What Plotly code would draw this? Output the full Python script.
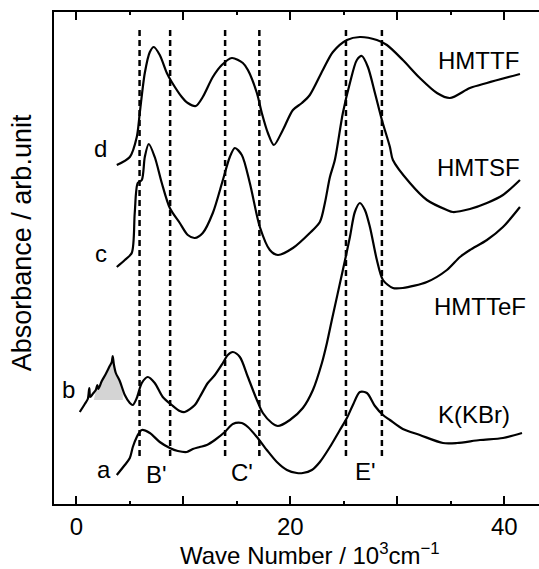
import plotly.graph_objects as go

# ---- data (x in 10^3 cm^-1, absorbance in arb. units) ----
hmttf_x = [3.77, 4.99, 5.64, 5.92, 6.39, 6.86, 7.23, 7.79, 8.45, 8.91, 9.85, 10.41, 11.16, 11.81, 12.75,
           13.59, 14.53, 15.56, 16.03, 16.87, 17.33, 17.90, 18.46, 19.30, 20.24, 21.08, 21.82, 23.04,
           23.98, 25.29, 26.50, 28.09, 29.03, 30.52, 32.11, 33.71, 34.92, 36.79, 38.38, 41.47]
hmttf_y = [3.38, 3.46, 3.66, 3.90, 4.30, 4.51, 4.56, 4.48, 4.30, 4.21, 4.06, 4.00, 3.97, 4.06, 4.26,
           4.38, 4.45, 4.40, 4.33, 4.10, 3.90, 3.70, 3.58, 3.73, 3.93, 4.00, 4.08, 4.33,
           4.51, 4.63, 4.66, 4.63, 4.58, 4.43, 4.25, 4.10, 4.05, 4.15, 4.20, 4.29]

hmtsf_x = [3.77, 4.52, 5.17, 5.45, 5.73, 6.11, 6.39, 6.76, 7.32, 7.98, 8.73, 9.66, 10.41, 11.07, 11.81,
           12.75, 13.69, 14.34, 14.81, 15.46, 16.21, 17.15, 18.08, 18.83, 20.24, 21.82, 22.76, 23.23,
           23.70, 24.16, 24.91, 25.57, 26.22, 26.69, 27.25, 27.91, 28.56, 29.31, 29.59, 31.18, 32.77,
           34.64, 35.20, 36.79, 38.38, 39.88, 41.47]
hmtsf_y = [2.36, 2.43, 2.50, 2.90, 3.20, 3.23, 3.46, 3.59, 3.46, 3.20, 2.95, 2.80, 2.68, 2.65, 2.70,
           2.90, 3.23, 3.46, 3.55, 3.48, 3.20, 2.76, 2.53, 2.48, 2.55, 2.70, 2.81, 3.00,
           3.26, 3.43, 3.90, 4.20, 4.43, 4.47, 4.36, 4.10, 3.83, 3.56, 3.43, 3.20, 3.03,
           2.93, 2.91, 2.94, 3.00, 3.08, 3.23]

hmttef_x = [0.31, 0.78, 1.06, 1.20, 1.29, 1.52, 1.81, 1.95, 2.04, 2.37, 2.74, 3.11, 3.30, 3.39, 3.49,
            3.68, 4.05, 4.52, 4.99, 5.27, 5.64, 6.11, 6.67, 7.32, 8.07, 8.91, 9.66, 10.13, 11.07,
            11.53, 12.28, 12.94, 13.69, 14.15, 14.62, 15.28, 16.03, 16.87, 17.43, 18.27, 18.83,
            19.96, 21.17, 22.11, 22.95, 23.42, 23.88, 24.91, 25.57, 26.03, 26.50, 26.97, 27.44,
            28.09, 28.66, 29.59, 30.52, 32.77, 34.64, 35.86, 36.79, 38.38, 39.88, 41.47]
hmttef_y = [0.91, 0.99, 1.04, 1.15, 1.06, 1.09, 1.13, 1.18, 1.14, 1.22, 1.29, 1.37, 1.41, 1.47, 1.39,
            1.30, 1.22, 1.08, 1.00, 0.98, 1.05, 1.20, 1.26, 1.20, 1.06, 0.98, 0.92, 0.91, 0.98,
            1.06, 1.20, 1.28, 1.40, 1.48, 1.51, 1.46, 1.26, 1.03, 0.90, 0.80, 0.77,
            0.83, 0.95, 1.13, 1.40, 1.60, 1.83, 2.33, 2.66, 2.91, 3.00, 2.93, 2.76,
            2.43, 2.23, 2.15, 2.15, 2.21, 2.33, 2.46, 2.53, 2.63, 2.76, 2.96]

kbr_x = [3.77, 4.52, 4.99, 5.27, 5.64, 5.92, 6.11, 6.86, 7.79, 8.73, 9.48, 10.32, 10.88, 11.53, 12.19,
         12.94, 13.87, 14.62, 15.46, 16.03, 16.87, 17.80, 18.74, 19.68, 20.61, 21.17, 22.01, 22.76,
         23.70, 24.63, 25.29, 25.85, 26.50, 27.16, 27.91, 28.66, 29.31, 30.52, 32.11, 34.27, 35.57,
         37.73, 39.88, 41.66]
kbr_y = [0.28, 0.38, 0.45, 0.56, 0.66, 0.71, 0.73, 0.70, 0.61, 0.55, 0.52, 0.51, 0.54, 0.56, 0.58,
         0.63, 0.71, 0.79, 0.80, 0.76, 0.66, 0.53, 0.41, 0.33, 0.30, 0.30, 0.33, 0.41,
         0.56, 0.73, 0.85, 0.98, 1.11, 1.10, 0.97, 0.88, 0.83, 0.74, 0.68, 0.60, 0.60,
         0.63, 0.65, 0.70]

# shaded low-energy band on curve b
shade_x = [1.62, 1.81, 1.95, 2.04, 2.37, 2.74, 3.11, 3.30, 3.39, 3.49, 3.68, 4.05, 4.33, 4.33]
shade_y = [1.03, 1.13, 1.18, 1.14, 1.22, 1.29, 1.37, 1.41, 1.47, 1.39, 1.30, 1.22, 1.14, 1.03]

# dashed band markers
band_x = [5.9, 8.76, 13.9, 17.1, 25.2, 28.56]
band_y = [0.47, 4.76]

# labels
names = ["HMTTF", "HMTSF", "HMTTeF", "K(KBr)"]
name_x = [37.59, 37.63, 37.73, 37.17]
name_y = [4.43, 3.36, 1.97, 0.89]
letters = ["d", "c", "b", "a"]
letter_x = [2.27, 2.27, -0.72, 2.56]
letter_y = [3.55, 2.50, 1.14, 0.34]
bands = ["B'", "C'", "E'"]
bands_x = [7.51, 15.51, 27.06]
bands_y = [0.29, 0.31, 0.32]

FONT = "Liberation Sans, Arial, Helvetica, sans-serif"
FS = 24

fig = go.Figure()

fig.add_trace(go.Scatter(x=shade_x, y=shade_y, mode="lines", fill="toself",
                         fillcolor="#d4d4d4", line=dict(width=0, color="#d4d4d4"),
                         hoverinfo="skip", showlegend=False))

for bx in band_x:
    fig.add_trace(go.Scatter(x=[bx, bx], y=band_y, mode="lines",
                             line=dict(color="black", width=2.5, dash="6px,4px"),
                             showlegend=False, hoverinfo="skip"))

for xs, ys in [(hmttf_x, hmttf_y), (hmtsf_x, hmtsf_y), (hmttef_x, hmttef_y), (kbr_x, kbr_y)]:
    fig.add_trace(go.Scatter(x=xs, y=ys, mode="lines",
                             line=dict(color="black", width=2.2, shape="spline", smoothing=0.8),
                             showlegend=False))

ann = []
for t, x, y in zip(names, name_x, name_y):
    ann.append(dict(x=x, y=y, text=t, showarrow=False, xanchor="center", yanchor="middle"))
for t, x, y in zip(letters, letter_x, letter_y):
    ann.append(dict(x=x, y=y, text=t, showarrow=False, xanchor="center", yanchor="middle"))
for t, x, y in zip(bands, bands_x, bands_y):
    ann.append(dict(x=x, y=y, text=t, showarrow=False, xanchor="center", yanchor="middle"))
ann.append(dict(x=0.528, y=-0.102, xref="paper", yref="paper",
                text="Wave Number / 10<sup>3</sup>cm<sup>\u22121</sup>",
                showarrow=False, xanchor="center", yanchor="middle"))
ann.append(dict(x=-0.066, y=0.532, xref="paper", yref="paper", text="Absorbance / arb.unit",
                textangle=-90, showarrow=False, xanchor="center", yanchor="middle",
                font=dict(family=FONT, size=27, color="black")))

fig.update_layout(
    width=539, height=569,
    margin=dict(l=54, r=0, t=12, b=65),
    paper_bgcolor="white", plot_bgcolor="white",
    font=dict(family=FONT, size=FS, color="black"),
    annotations=ann,
    showlegend=False,
)
fig.update_xaxes(range=[-2.1, 43.25], showgrid=False, zeroline=False,
                 showline=True, linecolor="black", linewidth=2, mirror="ticks",
                 ticks="inside", ticklen=8, tickwidth=2, tickcolor="black",
                 tickvals=[0, 10, 20, 30, 40], ticktext=["0", "", "20", "", "40"],
                 tickfont=dict(family=FONT, size=FS, color="black"),
                 minor=dict(dtick=5, ticks="inside", ticklen=3, tickwidth=2, tickcolor="black"))
fig.update_yaxes(range=[-0.01, 4.91], showgrid=False, zeroline=False,
                 showline=True, linecolor="black", linewidth=2, mirror=False,
                 showticklabels=False, ticks="")

fig.write_html("out.html", config={"displayModeBar": False, "staticPlot": True},
               post_script="document.body.style.margin='0px';document.body.style.overflow='hidden';")
